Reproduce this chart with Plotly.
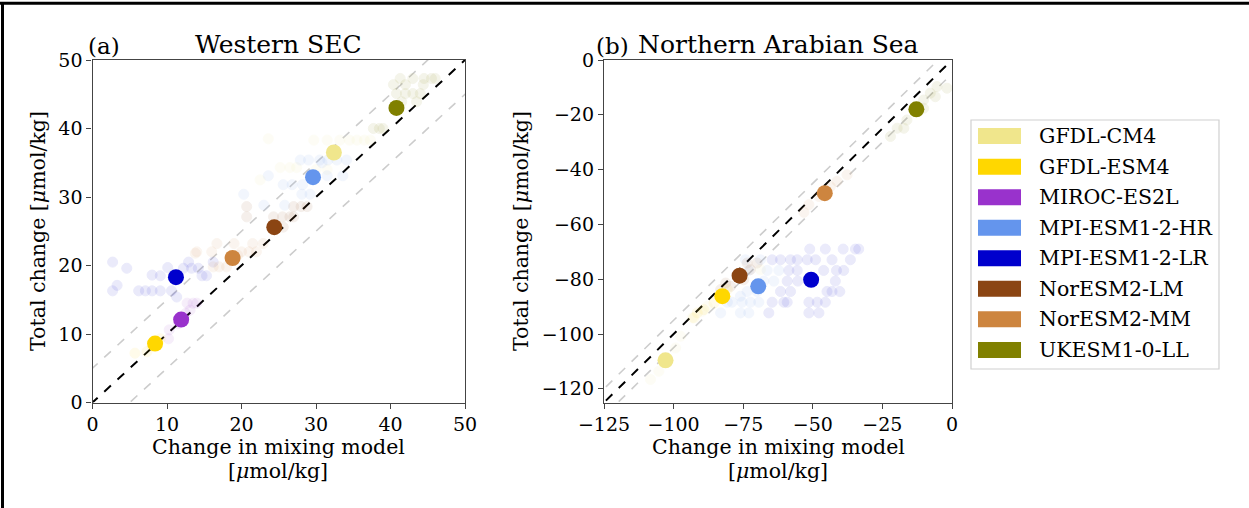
import plotly.graph_objects as go

W, H = 1249, 508
FONT = "DejaVu Serif"

models = ["GFDL-CM4", "GFDL-ESM4", "MIROC-ES2L", "MPI-ESM1-2-HR",
          "MPI-ESM1-2-LR", "NorESM2-LM", "NorESM2-MM", "UKESM1-0-LL"]
colors = ["#F0E68C", "#FFD700", "#9932CC", "#6495ED",
          "#0000CD", "#8B4513", "#CD853F", "#808000"]

# ---- Panel (a) Western SEC: ensemble-mean values (x = mixing model, y = total)
a_mean_x = [32.4, 8.4, 11.9, 29.6, 11.2, 24.4, 18.8, 40.8]
a_mean_y = [36.5, 8.6, 12.1, 32.9, 18.3, 25.6, 21.1, 43.0]

# Panel (a) individual members (faint points)
a_pts_x = {
    "GFDL-CM4": [29.7, 31.5, 33.2, 34.5, 35.5, 36.5, 37.3, 23.6, 25.2, 26.5, 27.4, 22.5, 30.0, 31.5],
    "GFDL-ESM4": [7.3, 5.7, 9.1, 8.0],
    "MIROC-ES2L": [12.7, 13.5, 14.0, 13.1, 12.5, 10.3, 10.2, 11.5],
    "MPI-ESM1-2-HR": [27.9, 29.0, 30.5, 31.6, 32.8, 34.1, 31.5, 33.6, 25.6, 26.8, 28.2, 28.1, 29.2, 23.0, 25.8, 23.6, 20.3, 30.8],
    "MPI-ESM1-2-LR": [2.7, 4.6, 3.3, 2.7, 6.2, 7.1, 8.0, 9.1, 10.6, 11.3, 8.0, 9.1, 10.1, 12.9, 12.2, 13.3, 14.2, 14.7, 15.3, 16.2],
    "NorESM2-LM": [27.0, 28.0, 28.8, 24.3, 25.5, 26.5, 27.0, 20.7, 20.7, 25.6],
    "NorESM2-MM": [16.7, 19.0, 21.5, 22.9, 14.0, 16.0, 20.0, 21.0, 22.0, 16.2, 17.0, 18.0, 13.8, 19.5],
    "UKESM1-0-LL": [41.3, 43.0, 44.5, 45.5, 46.0, 40.4, 42.0, 44.4, 40.8, 42.0, 43.0, 44.0, 41.5, 43.5, 37.7, 38.5, 39.0],
}
a_pts_y = {
    "GFDL-CM4": [38.3, 38.3, 38.3, 38.3, 38.3, 38.3, 38.3, 38.5, 34.3, 34.3, 34.3, 32.5, 34.0, 34.0],
    "GFDL-ESM4": [7.4, 7.2, 9.3, 8.2],
    "MIROC-ES2L": [14.5, 14.5, 14.5, 13.5, 13.0, 10.6, 9.3, 11.5],
    "MPI-ESM1-2-HR": [35.4, 35.4, 35.4, 35.4, 35.4, 35.4, 33.1, 33.1, 31.8, 31.8, 31.8, 30.4, 30.4, 28.8, 28.8, 33.1, 30.4, 35.0],
    "MPI-ESM1-2-LR": [20.5, 19.6, 17.1, 16.3, 16.3, 16.3, 16.3, 16.3, 16.3, 15.4, 18.6, 18.5, 19.7, 20.5, 19.6, 19.6, 19.6, 18.5, 18.5, 20.5],
    "NorESM2-LM": [28.6, 28.6, 28.6, 27.1, 27.1, 27.1, 27.1, 28.6, 27.1, 25.6],
    "NorESM2-MM": [23.2, 23.2, 23.2, 23.2, 22.0, 22.0, 22.0, 22.0, 22.0, 19.8, 19.8, 19.8, 21.8, 21.5],
    "UKESM1-0-LL": [47.3, 47.3, 47.3, 47.3, 47.3, 46.4, 46.4, 46.4, 45.1, 45.1, 45.1, 45.1, 43.9, 43.9, 40.0, 40.0, 40.0],
}

# ---- Panel (b) Northern Arabian Sea (MIROC-ES2L not shown)
b_mean_x = [-102.9, -82.5, None, -69.6, -50.6, -76.3, -45.7, -12.8]
b_mean_y = [-109.6, -86.2, None, -82.6, -80.2, -78.7, -48.6, -18.0]

b_pts_x = {
    "GFDL-CM4": [-108.3, -105.3, -99.3, -97.5, -93.3, -89.7, -68.8, -87.9],
    "GFDL-ESM4": [-85.5, -91.5, -92.7, -89.1, -80.7],
    "MIROC-ES2L": [],
    "MPI-ESM1-2-HR": [-74.2, -68.8, -73.0, -66.4, -62.2, -67.6, -64.0, -73.6, -70.0,
                      -80.7, -79.0, -75.4, -72.4, -69.4, -83.1, -76.0, -73.0, -76.0],
    "MPI-ESM1-2-LR": [-51.1, -45.5, -39.1, -34.7, -33.5,
                      -64.6, -61.6, -58.0, -55.6, -52.0, -49.0, -43.1, -36.5,
                      -58.6, -55.6, -46.1, -41.5, -38.9,
                      -59.2, -55.4, -41.9,
                      -61.6, -58.0, -44.9, -43.1, -40.3,
                      -60.4, -59.2, -51.4, -48.4, -45.5,
                      -51.4, -47.8, -64.6, -65.8],
    "NorESM2-LM": [-73.6, -70.0, -72.4, -79.5, -74.8, -83.1, -81.3],
    "NorESM2-MM": [-37.7, -41.3, -43.7, -47.8, -51.4, -53.2],
    "UKESM1-0-LL": [-5.4, -1.8, -7.8, -10.2, -16.2, -19.7, -17.3, -22.1, -10.2, -6.0],
}
b_pts_y = {
    "GFDL-CM4": [-116.6, -113.6, -105.1, -100.8, -94.1, -91.7, -76.5, -89.9],
    "GFDL-ESM4": [-88.7, -92.3, -94.1, -91.1, -83.8],
    "MIROC-ES2L": [],
    "MPI-ESM1-2-HR": [-72.9, -72.9, -76.8, -76.8, -76.8, -80.7, -80.7, -84.5, -84.5,
                      -88.4, -88.4, -88.4, -88.4, -88.4, -92.3, -92.3, -92.3, -86.2],
    "MPI-ESM1-2-LR": [-69.0, -69.0, -69.0, -69.0, -69.0,
                      -72.9, -72.9, -72.9, -72.9, -72.9, -72.9, -72.9, -72.9,
                      -76.8, -76.8, -76.8, -76.8, -76.8,
                      -80.7, -80.7, -80.7,
                      -84.5, -84.5, -84.5, -84.5, -84.5,
                      -88.4, -88.4, -88.4, -88.4, -88.4,
                      -92.3, -92.3, -88.4, -92.3],
    "NorESM2-LM": [-74.1, -74.1, -76.5, -82.6, -80.2, -83.8, -81.4],
    "NorESM2-MM": [-41.9, -44.3, -46.2, -49.8, -52.8, -55.6],
    "UKESM1-0-LL": [-9.7, -10.3, -12.1, -14.6, -21.9, -24.9, -24.9, -27.9, -17.6, -13.4],
}

x_ticks_a = [0, 10, 20, 30, 40, 50]
y_ticks_a = [0, 10, 20, 30, 40, 50]
x_ticks_b = [-125, -100, -75, -50, -25, 0]
y_ticks_b = [-120, -100, -80, -60, -40, -20, 0]
offsets = [0, 5, -5]

fig = go.Figure()


def add_panel(xa, ya, lo, hi, pts_x, pts_y, mean_x, mean_y):
    xr = [lo - 50, hi + 50]
    for off in offsets[1:]:
        fig.add_trace(go.Scatter(x=xr, y=[v + off for v in xr], mode="lines",
                                 line=dict(color="#cccccc", width=1.6, dash="dash"),
                                 xaxis=xa, yaxis=ya, showlegend=False, hoverinfo="skip"))
    fig.add_trace(go.Scatter(x=xr, y=xr, mode="lines",
                             line=dict(color="black", width=2, dash="dash"),
                             xaxis=xa, yaxis=ya, showlegend=False, hoverinfo="skip"))
    for m, c in zip(models, colors):
        if pts_x[m]:
            fig.add_trace(go.Scatter(x=pts_x[m], y=pts_y[m], mode="markers",
                                     marker=dict(color=c, size=10, opacity=0.08,
                                                 line=dict(color=c, width=1)),
                                     xaxis=xa, yaxis=ya, showlegend=False,
                                     cliponaxis=True))
    for m, c, mx, my in zip(models, colors, mean_x, mean_y):
        if mx is not None:
            fig.add_trace(go.Scatter(x=[mx], y=[my], mode="markers",
                                     marker=dict(color=c, size=16, line=dict(width=0)),
                                     xaxis=xa, yaxis=ya, showlegend=False))


add_panel("x", "y", 0, 50, a_pts_x, a_pts_y, a_mean_x, a_mean_y)
add_panel("x2", "y2", -125, 0, b_pts_x, b_pts_y, b_mean_x, b_mean_y)

ax_common = dict(showline=True, linecolor="#444", linewidth=1.3, mirror=True,
                 ticks="outside", ticklen=5, tickwidth=1.2, tickcolor="#444",
                 showgrid=False, zeroline=False, automargin=False,
                 tickfont=dict(family=FONT, size=19, color="black"))

xa_dom = [92.5 / W, 465 / W]
xb_dom = [604 / W, 952 / W]
y_dom = [1 - 402.5 / H, 1 - 60 / H]

fig.update_layout(
    width=W, height=H, autosize=False,
    margin=dict(l=0, r=0, t=0, b=0, pad=0, autoexpand=False),
    paper_bgcolor="white", plot_bgcolor="white", showlegend=False,
    xaxis=dict(domain=xa_dom, range=[0, 50], tickvals=x_ticks_a, anchor="y", **ax_common),
    yaxis=dict(domain=y_dom, range=[0, 50], tickvals=y_ticks_a, anchor="x", **ax_common),
    xaxis2=dict(domain=xb_dom, range=[-125, 0], tickvals=x_ticks_b,
                ticktext=[str(v).replace("-", "\u2212") for v in x_ticks_b], anchor="y2", **ax_common),
    yaxis2=dict(domain=y_dom, range=[-125, 0], tickvals=y_ticks_b,
                ticktext=[str(v).replace("-", "\u2212") for v in y_ticks_b], anchor="x2", **ax_common),
)

ann = []
def px(x): return x / W
def py(y): return 1 - y / H

lab_font = dict(family=FONT, size=20.5, color="black")
title_font = dict(family=FONT, size=25, color="black")
ann.append(dict(x=px(278), y=py(45), text="Western SEC", font=title_font))
ann.append(dict(x=px(778), y=py(45), text="Northern Arabian Sea", font=title_font))
ann.append(dict(x=px(86), y=py(46), text="(a)", xanchor="left", font=dict(family=FONT, size=23, color="black")))
ann.append(dict(x=px(594), y=py(46), text="(b)", xanchor="left", font=dict(family=FONT, size=23, color="black")))
for cx in (278, 778):
    ann.append(dict(x=px(cx), y=py(447), text="Change in mixing model", font=lab_font))
    ann.append(dict(x=px(cx), y=py(471), text="[<i>\u03bc</i>mol/kg]", font=lab_font))
ann.append(dict(x=px(38), y=py(231), text="Total change [<i>\u03bc</i>mol/kg]", textangle=-90, font=lab_font))
ann.append(dict(x=px(521), y=py(231), text="Total change [<i>\u03bc</i>mol/kg]", textangle=-90, font=lab_font))

shapes = []
shapes.append(dict(type="rect", xref="paper", yref="paper", x0=px(971), x1=px(1219),
                   y0=py(369), y1=py(120), line=dict(color="#d0d0d0", width=1.2), fillcolor="white"))
row_y = [136, 166.7, 197.3, 227.7, 258.3, 288.7, 319.3, 350]
for m, c, ry in zip(models, colors, row_y):
    shapes.append(dict(type="rect", xref="paper", yref="paper", x0=px(978), x1=px(1021),
                       y0=py(ry + 8), y1=py(ry - 8), line=dict(width=0), fillcolor=c))
    ann.append(dict(x=px(1037), y=py(ry), text=m, xanchor="left", yanchor="middle",
                    font=lab_font))

shapes.append(dict(type="line", xref="paper", yref="paper", x0=0, x1=1, y0=py(3.3), y1=py(3.3),
                   line=dict(color="black", width=3)))
shapes.append(dict(type="line", xref="paper", yref="paper", x0=px(2.5), x1=px(2.5), y0=0, y1=py(2),
                   line=dict(color="black", width=3)))

for a in ann:
    a.setdefault("xref", "paper")
    a.setdefault("yref", "paper")
    a.setdefault("showarrow", False)
    a.setdefault("xanchor", "center")
    a.setdefault("yanchor", "middle")
fig.update_layout(annotations=ann, shapes=shapes)

fig.write_html("out.html", config={"displayModeBar": False},
               post_script="document.body.style.margin='0';")
